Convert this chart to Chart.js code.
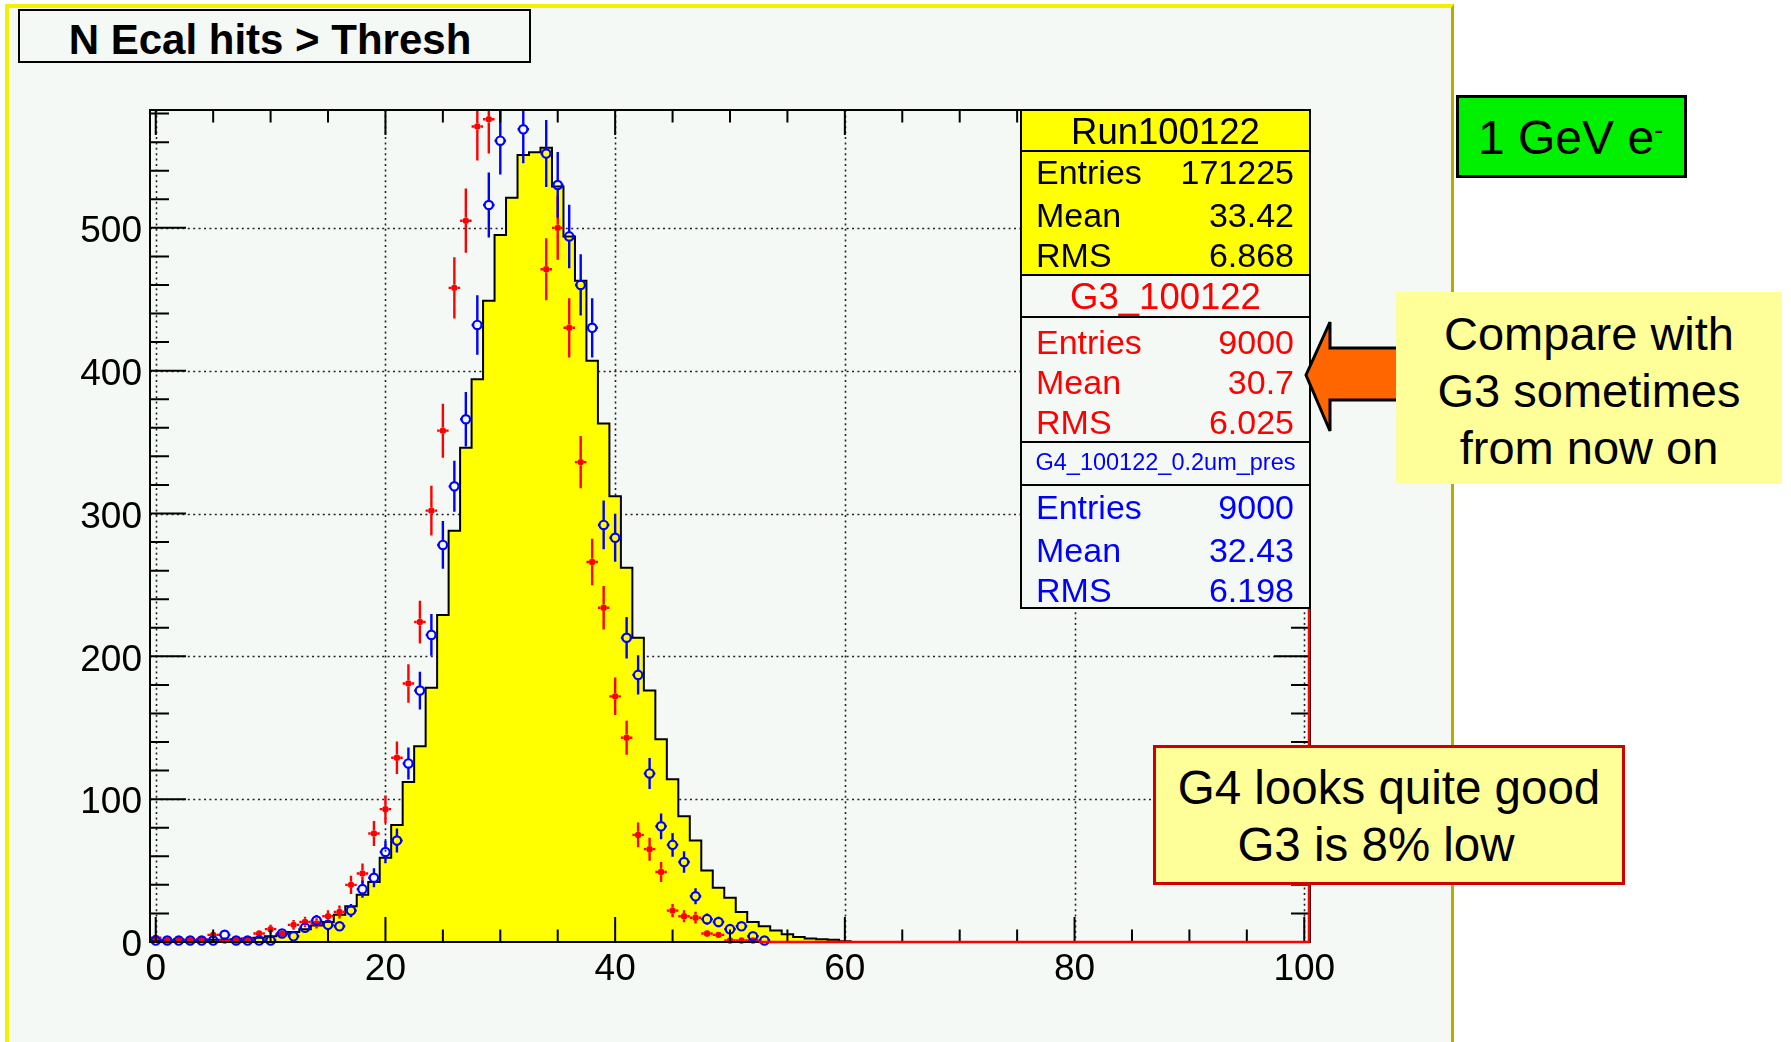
<!DOCTYPE html>
<html>
<head>
<meta charset="utf-8">
<title>N Ecal hits &gt; Thresh</title>
<script src="https://cdn.jsdelivr.net/npm/chart.js@4.4.1/dist/chart.umd.min.js"></script>
<style>
  html, body { margin: 0; padding: 0; }
  body { width: 1791px; height: 1042px; position: relative; overflow: hidden; background: #ffffff;
         font-family: "Liberation Sans", Arial, Helvetica, sans-serif; color: #000; }
  #pad { position: absolute; left: 5px; top: 4px; width: 1442px; height: 1100px; background: #f4f9f6;
         border-left: 4px solid #f2f200; border-top: 4px solid #f2f200; border-right: 3px solid #b4ad00; }
  #plot { position: absolute; left: 0; top: 0; }
  .abs { position: absolute; box-sizing: border-box; }
  #title { left: 18px; top: 9px; width: 513px; height: 54px; border: 2px solid #000; background: #f4f9f6;
           font-weight: bold; font-size: 42px; line-height: 58px; text-align: center; padding-right: 9px; white-space: nowrap; }
  #stats { left: 1020px; top: 109px; width: 291px; height: 500px; border: 2px solid #000; background: #f4f9f6; }
  #stats div { position: absolute; }
  .sep { left: 0; width: 100%; height: 2px; background: #000; }
  .row { left: 14px; right: 15px; height: 40px; line-height: 40px; font-size: 34px; white-space: nowrap; }
  .row span:last-child { float: right; }
  .hdr { left: 0; width: 100%; height: 40px; line-height: 40px; text-align: center; font-size: 36.5px; white-space: nowrap; }
  .red { color: #ff0000; }
  .blue { color: #0000ff; }
  #energy { left: 1456px; top: 95px; width: 231px; height: 83px; border: 3px solid #000; background: #00f000;
            font-size: 48px; line-height: 79px; padding-left: 19px; white-space: nowrap; }
  #energy sup { font-size: 28px; vertical-align: 15px; line-height: 0; }
  #compare { left: 1396px; top: 292px; width: 386px; height: 192px; background: #ffff99;
             font-size: 47px; line-height: 57px; padding-top: 13px; text-align: center; white-space: nowrap; }
  #verdict { left: 1153px; top: 745px; width: 472px; height: 140px; border: 3px solid #d00000; background: #ffff99;
             font-size: 47.5px; line-height: 56.7px; padding-top: 12px; text-align: center; white-space: nowrap; }
  #arrow { position: absolute; left: 1290px; top: 310px; }
</style>
</head>
<body>
<div id="pad"></div>
<canvas id="plot" width="1791" height="1042"></canvas>

<div id="title" class="abs">N Ecal hits &gt; Thresh</div>

<div id="stats" class="abs">
  <div style="left:0; top:0; width:100%; height:164px; background:#ffff00;"></div>
  <div class="hdr" style="top:1px;">Run100122</div>
  <div class="sep" style="top:39px;"></div>
  <div class="row" style="top:41px;"><span>Entries</span><span>171225</span></div>
  <div class="row" style="top:84px;"><span>Mean</span><span>33.42</span></div>
  <div class="row" style="top:124px;"><span>RMS</span><span>6.868</span></div>
  <div class="sep" style="top:163px;"></div>
  <div class="hdr red" style="top:166px;">G3_100122</div>
  <div class="sep" style="top:205px;"></div>
  <div class="row red" style="top:211px;"><span>Entries</span><span>9000</span></div>
  <div class="row red" style="top:251px;"><span>Mean</span><span>30.7</span></div>
  <div class="row red" style="top:291px;"><span>RMS</span><span>6.025</span></div>
  <div class="sep" style="top:330px;"></div>
  <div class="hdr blue" style="top:331px; font-size:23.5px;">G4_100122_0.2um_pres</div>
  <div class="sep" style="top:373px;"></div>
  <div class="row blue" style="top:376px;"><span>Entries</span><span>9000</span></div>
  <div class="row blue" style="top:419px;"><span>Mean</span><span>32.43</span></div>
  <div class="row blue" style="top:459px;"><span>RMS</span><span>6.198</span></div>
</div>

<div id="energy" class="abs">1 GeV e<sup>-</sup></div>

<svg id="arrow" width="120" height="135">
  <polygon points="16,65 40,12 40,38 108,38 108,90 40,90 40,121" fill="#ff6600" stroke="#000" stroke-width="3" stroke-linejoin="miter"/>
</svg>

<div id="compare" class="abs">Compare with<br>G3 sometimes<br>from now on</div>

<div id="verdict" class="abs">
  <div>G4 looks quite good</div>
  <div style="padding-right:26px;">G3 is 8% low</div>
</div>

<script>
// Contenidos por bin (bins de ancho 1, centrados en enteros, desde 0)
const runCounts = [1, 1, 1, 1, 1, 1.5, 1.5, 2, 2.5, 3,
  4, 5.5, 7, 9, 11.5, 14, 19, 25, 33, 42,
  59, 82, 112, 137, 178, 229, 288, 346, 394, 449,
  495, 521, 551, 553, 556, 529, 494, 463, 407, 363,
  312, 262, 213, 176, 142, 114, 88, 71, 50, 38,
  31, 21, 14, 11, 8, 5.5, 3.5, 2.5, 2, 1.5, 0.5]

const g3Counts = [3, 1, 2, 1, 2, 5, 1, 1, 2, 6,
  9, 6, 12, 14, 13, 18, 21, 40, 48, 76,
  93, 129, 181, 224, 302, 358, 458, 505, 571, 576,
  615, 625, 620, 610, 471, 500, 430, 336, 266, 234,
  172, 143, 75, 65, 49, 22, 18, 17, 6, 5,
  1, 1, 1]

const g4Counts = [1, 1, 1, 1, 1, 1, 5, 1, 1, 1,
  1, 6, 4, 10, 15, 12, 11, 22, 37, 45,
  63, 71, 125, 176, 215, 278, 319, 366, 432, 516,
  561, 625, 569, 615, 552, 530, 494, 460, 430, 292,
  283, 213, 187, 118, 81, 68, 56, 32, 16, 14,
  9, 11, 4, 1]

// Ejes
const xTickValues = [0, 20, 40, 60, 80, 100]
const yTickValues = [0, 100, 200, 300, 400, 500]
const xRange = [-0.5, 100.5]
const yRange = [0, 582.5]

// Errores de Poisson de cada bin
const g3Errors = g3Counts.map(Math.sqrt)
const g4Errors = g4Counts.map(Math.sqrt)

// Histograma en escalones: cada valor cubre [i-0.5, i+0.5]
const runStep = [{ x: -0.5, y: 0 }].concat(runCounts.map((v, i) => ({ x: i - 0.5, y: v })))
runStep.push({ x: runCounts.length - 0.5, y: 0 })

const g3Points = g3Counts.map((v, i) => ({ x: i, y: v }))
const g4Points = g4Counts.map((v, i) => ({ x: i, y: v }))

const AXIS_FONT = { family: '"Liberation Sans", Arial, Helvetica, sans-serif', size: 37 }

// Barras de error al estilo ROOT (sin atravesar el marcador)
const errorBars = {
  id: "errorBars",
  beforeDatasetDraw(chart, args) {
    const ds = chart.data.datasets[args.index]
    if (!ds.errors) return
    const { ctx, chartArea, scales } = chart
    const x = scales.x
    const y = scales.y
    ctx.save()
    ctx.beginPath()
    ctx.rect(chartArea.left - 10, chartArea.top, chartArea.width + 10, chartArea.height + 10)
    ctx.clip()
    ctx.strokeStyle = ds.borderColor
    ctx.lineWidth = 2.4
    const gap = ds.pointRadius
    ds.data.forEach((p, i) => {
      const e = ds.errors[i]
      const px = x.getPixelForValue(p.x)
      const py = y.getPixelForValue(p.y)
      const top = y.getPixelForValue(p.y + e)
      const bottom = y.getPixelForValue(p.y - e)
      const left = x.getPixelForValue(p.x - 0.5)
      const right = x.getPixelForValue(p.x + 0.5)
      ctx.beginPath()
      if (py - top > gap) {
        ctx.moveTo(px, py - gap)
        ctx.lineTo(px, top)
        ctx.moveTo(px, py + gap)
        ctx.lineTo(px, bottom)
      }
      ctx.moveTo(left, py)
      ctx.lineTo(px - gap, py)
      ctx.moveTo(px + gap, py)
      ctx.lineTo(right, py)
      ctx.stroke()
    })
    ctx.restore()
  },
}

// Marco, rejilla punteada y marcas hacia dentro
const rootFrame = {
  id: "rootFrame",
  beforeDatasetsDraw(chart) {
    const { ctx, chartArea: a, scales: { x, y } } = chart
    ctx.save()
    ctx.strokeStyle = "#222"
    ctx.lineWidth = 1.6
    ctx.setLineDash([2, 3.4])
    xTickValues.forEach((v) => {
      const px = Math.round(x.getPixelForValue(v)) + 0.5
      ctx.beginPath()
      ctx.moveTo(px, a.top)
      ctx.lineTo(px, a.bottom)
      ctx.stroke()
    })
    yTickValues.forEach((v) => {
      if (v === 0) return
      const py = Math.round(y.getPixelForValue(v)) + 0.5
      ctx.beginPath()
      ctx.moveTo(a.left, py)
      ctx.lineTo(a.right, py)
      ctx.stroke()
    })
    ctx.restore()
  },
  afterDatasetsDraw(chart) {
    const { ctx, chartArea: a, scales: { x, y } } = chart
    ctx.save()
    ctx.strokeStyle = "#000"
    ctx.lineWidth = 2
    ctx.beginPath()
    for (let v = 0; v <= 100; v += 5) {
      const px = x.getPixelForValue(v)
      const len = v % 20 === 0 ? 25 : 12.5
      ctx.moveTo(px, a.bottom)
      ctx.lineTo(px, a.bottom - len)
      ctx.moveTo(px, a.top)
      ctx.lineTo(px, a.top + len)
    }
    for (let v = 0; v <= 580; v += 20) {
      const py = y.getPixelForValue(v)
      const len = v % 100 === 0 ? 36 : 19
      ctx.moveTo(a.left, py)
      ctx.lineTo(a.left + len, py)
      ctx.moveTo(a.right, py)
      ctx.lineTo(a.right - len, py)
    }
    ctx.stroke()
    ctx.strokeRect(a.left, a.top, a.width, a.height)

    // contorno rojo del histograma G3 a lo largo del eje y del borde derecho
    ctx.strokeStyle = "#ff0000"
    ctx.lineWidth = 2.5
    ctx.beginPath()
    ctx.moveTo(x.getPixelForValue(g3Counts.length - 0.5), a.bottom)
    ctx.lineTo(a.right - 1, a.bottom)
    ctx.lineTo(a.right - 1, a.top)
    ctx.stroke()
    ctx.restore()
  },
}

Chart.defaults.font.family = AXIS_FONT.family
Chart.defaults.color = "#000"

new Chart(document.getElementById("plot"), {
  type: "scatter",
  data: {
    datasets: [
      {
        label: "Run100122",
        data: runStep,
        showLine: true,
        stepped: "before",
        fill: "origin",
        backgroundColor: "#ffff00",
        borderColor: "#000000",
        borderWidth: 2,
        pointRadius: 0,
        order: 3,
      },
      {
        label: "G3_100122",
        data: g3Points,
        errors: g3Errors,
        backgroundColor: "#ff0000",
        borderColor: "#ff0000",
        pointRadius: 3.2,
        pointBorderWidth: 0,
        borderWidth: 0,
        order: 2,
        clip: { left: 10, top: 0, right: 0, bottom: 10 },
      },
      {
        label: "G4_100122_0.2um_pres",
        data: g4Points,
        errors: g4Errors,
        backgroundColor: "rgba(0,0,0,0)",
        borderColor: "#0000ff",
        pointRadius: 4.2,
        pointBorderWidth: 2.2,
        borderWidth: 2.2,
        order: 1,
        clip: { left: 10, top: 0, right: 0, bottom: 10 },
      },
    ],
  },
  options: {
    responsive: false,
    animation: false,
    devicePixelRatio: 1,
    layout: { padding: { left: 40, top: 110, right: 481, bottom: 40 } },
    plugins: { legend: { display: false }, tooltip: { enabled: false }, title: { display: false } },
    scales: {
      x: {
        type: "linear",
        min: xRange[0],
        max: xRange[1],
        afterFit: (axis) => { axis.height = 60 },
        afterBuildTicks: (axis) => { axis.ticks = xTickValues.map((v) => ({ value: v })) },
        grid: { display: false, drawTicks: false },
        border: { display: false },
        ticks: { font: AXIS_FONT, color: "#000", padding: 6, maxRotation: 0, autoSkip: false },
      },
      y: {
        type: "linear",
        min: yRange[0],
        max: yRange[1],
        afterFit: (axis) => { axis.width = 110 },
        afterBuildTicks: (axis) => { axis.ticks = yTickValues.map((v) => ({ value: v })) },
        grid: { display: false, drawTicks: false },
        border: { display: false },
        ticks: { font: AXIS_FONT, color: "#000", padding: 8, labelOffset: 4, autoSkip: false },
      },
    },
  },
  plugins: [errorBars, rootFrame],
})
</script>
</body>
</html>
